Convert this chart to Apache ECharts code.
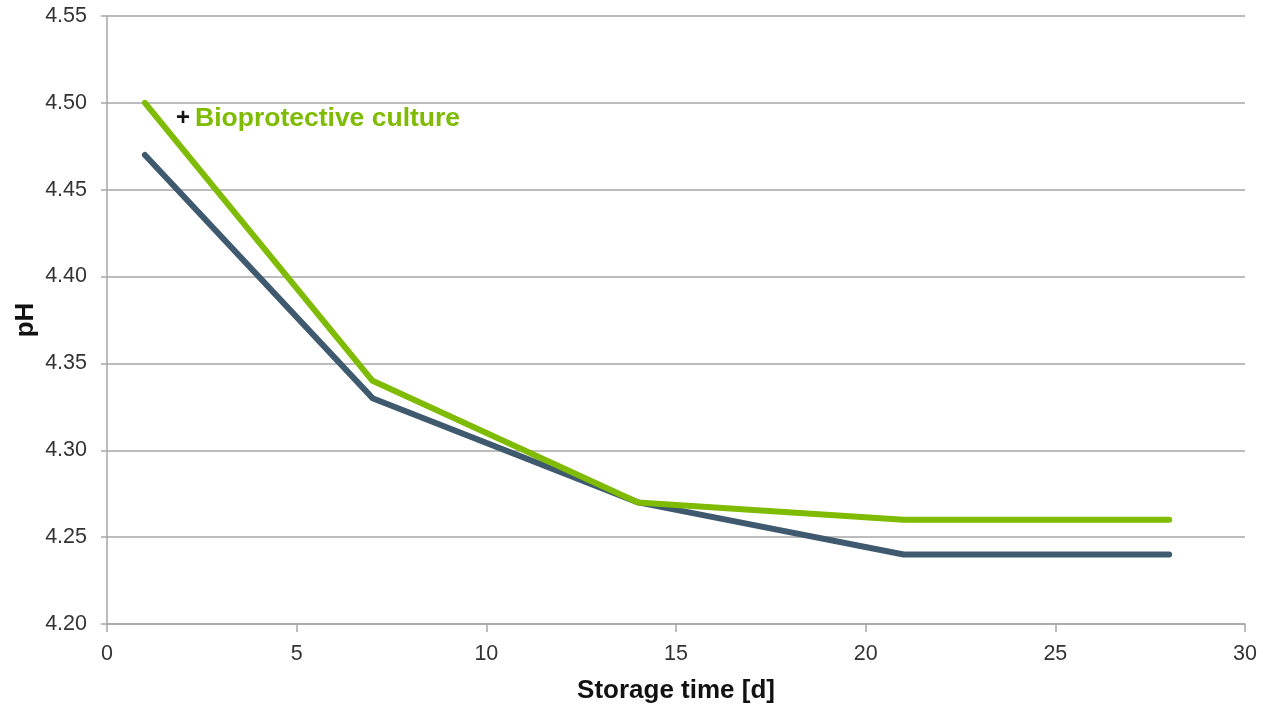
<!DOCTYPE html>
<html>
<head>
<meta charset="utf-8">
<script src="https://cdn.jsdelivr.net/npm/echarts@6/dist/echarts.min.js"></script>
<style>
  html, body { margin: 0; padding: 0; background: #fff; }
  #chart { width: 1263px; height: 710px; }
</style>
</head>
<body>
<div id="chart"></div>
<script>
// Storage days and pH measurements
const days = [1, 7, 14, 21, 28];
const phWithCulture = [4.50, 4.34, 4.27, 4.26, 4.26];
const phReference = [4.47, 4.33, 4.27, 4.24, 4.24];

const FONT = '"Liberation Sans", Arial, sans-serif';
const GREEN = '#7fbb00';
const SLATE = '#3f5a6e';

const pairs = (xs, ys) => xs.map((x, i) => [x, ys[i]]);

const chart = echarts.init(document.getElementById('chart'));
chart.setOption({
  animation: false,
  backgroundColor: '#ffffff',
  grid: { left: 107, right: 18, top: 16, bottom: 86 },
  title: {
    text: '{plus|+} {name|Bioprotective culture}',
    left: 171,
    top: 100,
    textStyle: {
      rich: {
        plus: { fontFamily: FONT, fontSize: 24, fontWeight: 'bold', color: '#111' },
        name: { fontFamily: FONT, fontSize: 26.5, fontWeight: 'bold', color: GREEN }
      }
    }
  },
  xAxis: {
    type: 'value',
    min: 0,
    max: 30,
    interval: 5,
    name: 'Storage time [d]',
    nameLocation: 'middle',
    nameGap: 54,
    nameMoveOverlap: false,
    nameTextStyle: { fontFamily: FONT, fontSize: 26, fontWeight: 'bold', color: '#111' },
    axisLine: { show: true, lineStyle: { color: '#a6a6a6', width: 1.5 } },
    axisTick: { show: true, length: 8, lineStyle: { color: '#a6a6a6', width: 1.5 } },
    axisLabel: { fontFamily: FONT, fontSize: 21.5, color: '#333', margin: 19 },
    splitLine: { show: false }
  },
  yAxis: {
    type: 'value',
    min: 4.20,
    max: 4.55,
    interval: 0.05,
    name: 'pH',
    nameLocation: 'middle',
    nameGap: 68,
    nameMoveOverlap: false,
    nameTextStyle: { fontFamily: FONT, fontSize: 26, fontWeight: 'bold', color: '#111' },
    axisLine: { show: true, lineStyle: { color: '#a6a6a6', width: 1.5 } },
    axisTick: { show: true, length: 6, lineStyle: { color: '#a6a6a6', width: 1.5 } },
    axisLabel: {
      fontFamily: FONT, fontSize: 21.5, color: '#333', margin: 20,
      formatter: v => v.toFixed(2)
    },
    splitLine: { show: true, lineStyle: { color: '#a6a6a6', width: 1.5 } }
  },
  series: [
    {
      name: 'Control',
      type: 'line',
      data: pairs(days, phReference),
      showSymbol: false,
      lineStyle: { color: SLATE, width: 6, cap: 'round', join: 'round' }
    },
    {
      name: 'Bioprotective culture',
      type: 'line',
      data: pairs(days, phWithCulture),
      showSymbol: false,
      lineStyle: { color: GREEN, width: 6, cap: 'round', join: 'round' }
    }
  ]
});
</script>
</body>
</html>
